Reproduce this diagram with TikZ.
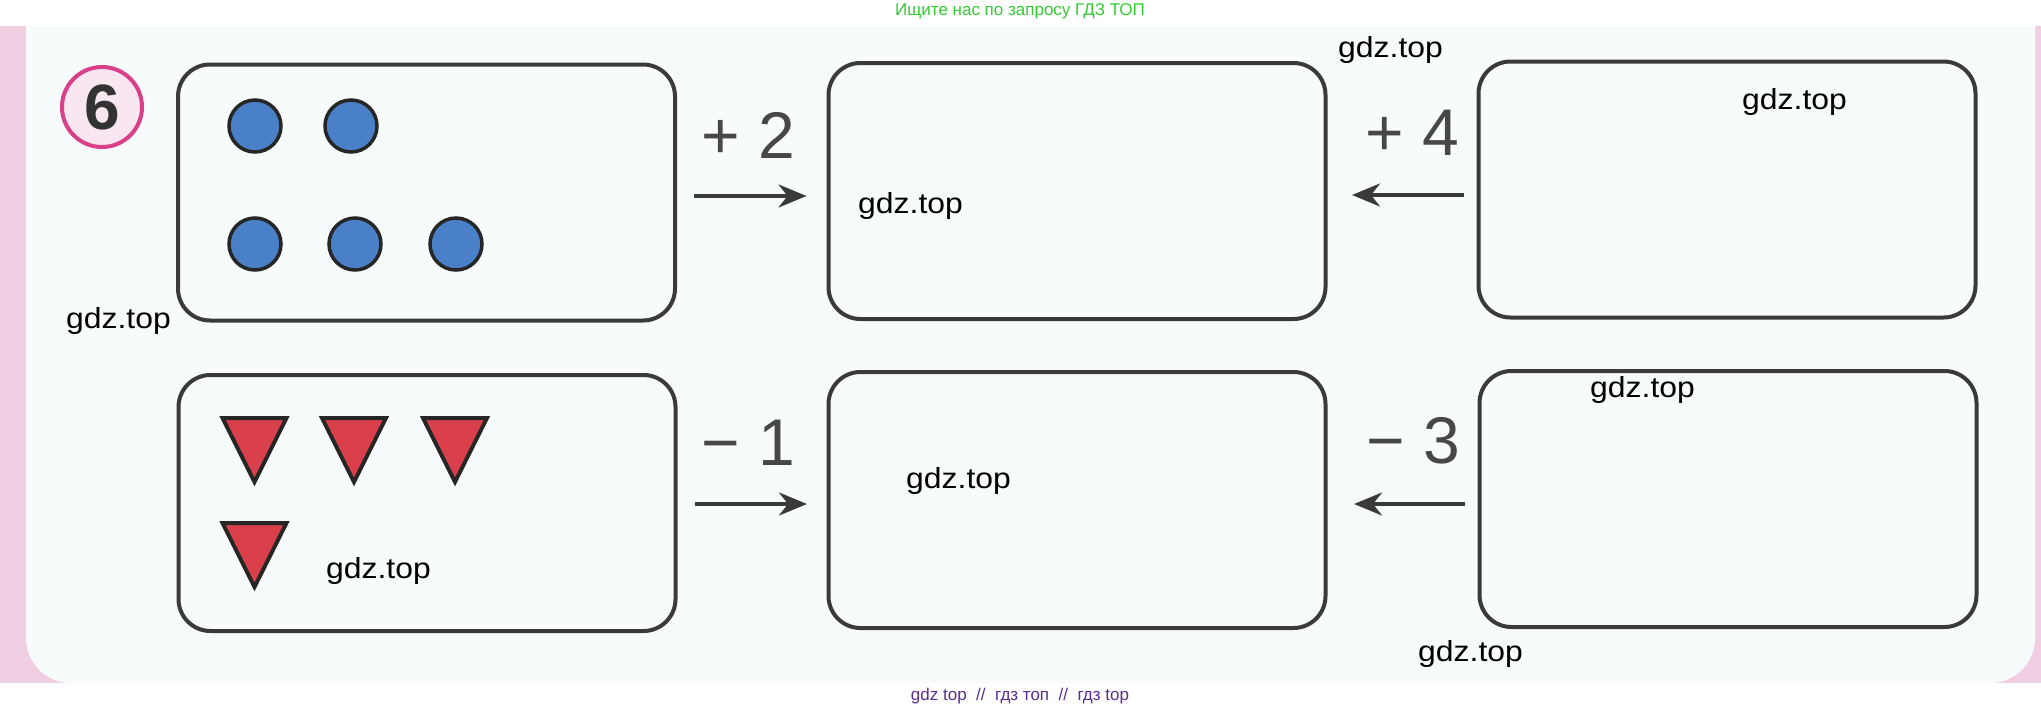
\documentclass[tikz,border=0pt]{standalone}
\usepackage{fontspec}
\setmainfont{Liberation Sans}
\usetikzlibrary{arrows.meta}
\definecolor{pinkbg}{HTML}{F1CFE2}
\definecolor{pagebg}{HTML}{F8FBFC}
\definecolor{ringpink}{HTML}{D8408A}
\definecolor{ringfill}{HTML}{F8E6F0}
\definecolor{boxline}{HTML}{3A3A3A}
\definecolor{dotblue}{HTML}{4A80C8}
\definecolor{trired}{HTML}{D9404C}
\definecolor{labelgray}{HTML}{474747}
\definecolor{wmgreen}{HTML}{33CC33}
\definecolor{wmpurple}{HTML}{5B2D90}
\begin{document}
\begin{tikzpicture}[x=1pt,y=-1pt,
  answerbox/.style={draw=boxline, line width=4pt, rounded corners=32pt, minimum width=497pt, minimum height=256pt, inner sep=0pt},
  dot/.style={circle, draw=black!85, line width=3.5pt, fill=dotblue, minimum size=52pt, inner sep=0pt},
  tri/.style={draw=black!85, line width=4pt, fill=trired, line join=miter},
  arr/.style={draw=boxline, line width=3.5pt, -{Stealth[length=28pt,width=23pt,inset=9pt]}},
  oplabel/.style={text=labelgray, font=\fontsize{66}{70}\selectfont, inner sep=0pt, anchor=base},
  wm/.style={text=black, font=\fontsize{29}{32}\selectfont, inner sep=0pt, anchor=west},
]
\useasboundingbox (0,0) rectangle (2041,710);
\fill[white] (0,0) rectangle (2041,710);
\fill[pinkbg] (0,26) rectangle (2041,683);
\fill[pagebg] (26,26) -- (2035,26) -- (2035,638)
  arc[start angle=0, end angle=90, radius=45] -- (71,683)
  arc[start angle=90, end angle=180, radius=45] -- cycle;

% number
\node[circle, draw=ringpink, line width=4pt, fill=ringfill, minimum size=80pt,
  font=\fontsize{64}{66}\selectfont\bfseries, text=black!80, inner sep=0pt] (num) at (102,107) {6};

% boxes
\node[answerbox] (b1) at (426.5,192.5) {};
\node[answerbox] (b2) at (1077,191) {};
\node[answerbox] (b3) at (1727,189.5) {};
\node[answerbox] (b4) at (427,503) {};
\node[answerbox] (b5) at (1077,500) {};
\node[answerbox] (b6) at (1728,499) {};

% dots
\node[dot] (d1) at (255,126) {};
\node[dot] (d2) at (351,126) {};
\node[dot] (d3) at (255,244) {};
\node[dot] (d4) at (355,244) {};
\node[dot] (d5) at (456,244) {};

% triangles
\draw[tri] (222.5,418) -- (286.5,418) -- (254.5,482) -- cycle;
\draw[tri] (322,418) -- (386,418) -- (354,482) -- cycle;
\draw[tri] (423,418) -- (487,418) -- (455,482) -- cycle;
\draw[tri] (222.5,523) -- (286.5,523) -- (254.5,587) -- cycle;

% operation labels
\node[oplabel] (l1) at (748,158) {+ 2};
\node[oplabel] (l2) at (1412,155) {+ 4};
\node[oplabel] (l3) at (748,465) {− 1};
\node[oplabel] (l4) at (1413,463) {− 3};

% arrows
\draw[arr, shorten <=17pt, shorten >=20pt] ([yshift=-3.5pt]b1.east) -- ([yshift=-5pt]b2.west);
\draw[arr, shorten <=12.5pt, shorten >=24.5pt] ([yshift=-5.5pt]b3.west) -- ([yshift=-4pt]b2.east);
\draw[arr, shorten <=17.5pt, shorten >=19.5pt] ([yshift=-1pt]b4.east) -- ([yshift=-4pt]b5.west);
\draw[arr, shorten <=12.5pt, shorten >=26.5pt] ([yshift=-5pt]b6.west) -- ([yshift=-4pt]b5.east);

% watermarks
\node[wm] (w1) at (66,321) {\scalebox{1.1}[1]{gdz.top}};
\node[wm] (w2) at (1338,50) {\scalebox{1.1}[1]{gdz.top}};
\node[wm] (w3) at (1742,102) {\scalebox{1.1}[1]{gdz.top}};
\node[wm] (w4) at (858,206) {\scalebox{1.1}[1]{gdz.top}};
\node[wm] (w5) at (1590,390) {\scalebox{1.1}[1]{gdz.top}};
\node[wm] (w6) at (906,481) {\scalebox{1.1}[1]{gdz.top}};
\node[wm] (w7) at (326,571) {\scalebox{1.1}[1]{gdz.top}};
\node[wm] (w8) at (1418,654) {\scalebox{1.1}[1]{gdz.top}};

\node[font=\fontsize{17}{20}\selectfont, text=wmgreen, inner sep=0pt] (topwm) at (1020,11) {Ищите нас по запросу ГДЗ ТОП};
\node[font=\fontsize{17}{20}\selectfont, text=wmpurple, inner sep=0pt] (botwm) at (1020,696) {gdz top~~//~~гдз топ~~//~~гдз top};
\end{tikzpicture}
\end{document}
